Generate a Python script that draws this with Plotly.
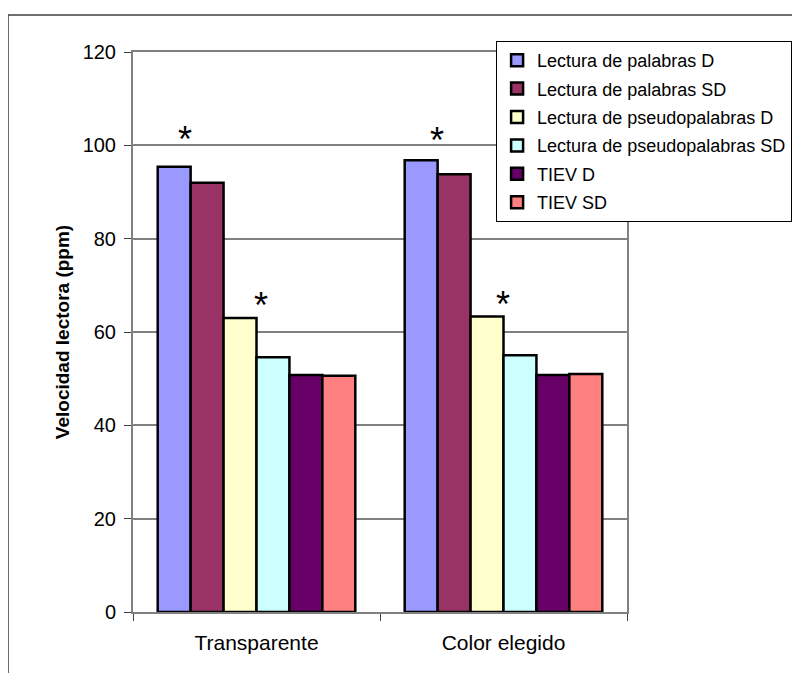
import plotly.graph_objects as go

categories = ["Transparente", "Color elegido"]
series_names = ["Lectura de palabras D", "Lectura de palabras SD",
                "Lectura de pseudopalabras D", "Lectura de pseudopalabras SD",
                "TIEV D", "TIEV SD"]
series_values = [
    [95.4, 96.8],
    [92.0, 93.8],
    [63.0, 63.3],
    [54.6, 55.0],
    [50.8, 50.8],
    [50.6, 51.0],
]
series_colors = ["#9999FF", "#993366", "#FFFFCC", "#CCFFFF", "#660066", "#FF8080"]
y_ticks = [0, 20, 40, 60, 80, 100, 120]
# significance markers: (x position on category axis, y value)
star_x = [-0.289, 0.018, 0.731, 0.998]
star_y = [101.2, 65.6, 101.0, 65.9]

FONT = "Liberation Sans, Arial, sans-serif"

fig = go.Figure()
for name, vals, col in zip(series_names, series_values, series_colors):
    fig.add_trace(go.Bar(name=name, x=categories, y=vals, legendgroup=name,
                         marker=dict(color=col, line=dict(color="black", width=2.5))))

for xa, ya in zip(star_x, star_y):
    fig.add_annotation(x=xa, y=ya, xref="x", yref="y", text="*", showarrow=False,
                       font=dict(family=FONT, size=36, color="black"), yanchor="middle")

# outer chart border
fig.add_shape(type="rect", xref="paper", yref="paper",
              x0=-0.253, x1=1.6, y0=-0.3, y1=1.066,
              line=dict(color="#404040", width=1.5), layer="below")

fig.update_layout(
    width=800, height=673,
    margin=dict(l=125, r=181, t=44, b=69, autoexpand=False),
    paper_bgcolor="white", plot_bgcolor="white",
    barmode="group", bargap=0.2, bargroupgap=0,
    font=dict(family=FONT, size=15, color="black"),
    showlegend=True,
    legend=dict(xref="paper", yref="paper", x=0.735, xanchor="left",
                y=1.0196, yanchor="top",
                bgcolor="white", bordercolor="black", borderwidth=1,
                font=dict(family=FONT, size=18), tracegroupgap=2,
                itemwidth=30),
    xaxis=dict(showline=True, linecolor="#808080", linewidth=2, mirror=True,
               ticks="outside", tickson="boundaries", ticklen=7, tickcolor="#404040",
               tickfont=dict(size=21), showgrid=False, ticklabelstandoff=11,
               automargin=False),
    yaxis=dict(range=[0, 120], tickvals=y_ticks, showline=True, linecolor="#808080",
               linewidth=2, mirror=True, ticks="outside", ticklen=7, tickcolor="#404040",
               showgrid=True, gridcolor="#808080", gridwidth=1.5, zeroline=False,
               tickfont=dict(size=20), ticklabelstandoff=4, automargin=False,
               title=dict(text="<b>Velocidad lectora (ppm)</b>", font=dict(size=19), standoff=8)),
)

fig.write_html("out.html")
